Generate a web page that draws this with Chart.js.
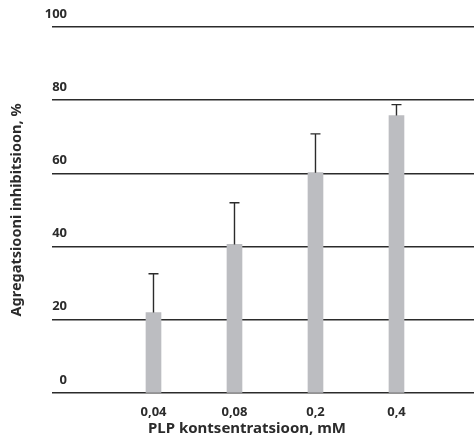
<!DOCTYPE html>
<html>
<head>
<meta charset="utf-8">
<script src="https://cdn.jsdelivr.net/npm/chart.js@4/dist/chart.umd.min.js"></script>
<style>
  html, body { margin: 0; padding: 0; background: #fff; }
  #wrap { width: 474px; height: 439px; }
</style>
</head>
<body>
<div id="wrap"><canvas id="chart"></canvas></div>
<script>
// Andmed
const concentrations = ['0,04', '0,08', '0,2', '0,4'];
const positions = [1, 2, 3, 4];
const inhibition = [22, 40.6, 60.2, 75.8];
const errorUp = [10.6, 11.4, 10.6, 3];
const yTicks = [0, 20, 40, 60, 80, 100];

const FONT = '"Noto Sans", sans-serif';
const INK = '#2b2b2b';

// ainult ülemine veaosa koos kriipsuga
const errorBars = {
  id: 'errorBars',
  afterDatasetsDraw(chart) {
    const ctx = chart.ctx;
    const meta = chart.getDatasetMeta(0);
    const y = chart.scales.y;
    ctx.save();
    ctx.strokeStyle = INK;
    ctx.lineWidth = 1.4;
    meta.data.forEach((bar, i) => {
      const top = y.getPixelForValue(inhibition[i] + errorUp[i]);
      ctx.beginPath();
      ctx.moveTo(bar.x, bar.y);
      ctx.lineTo(bar.x, top);
      ctx.moveTo(bar.x - 5, top);
      ctx.lineTo(bar.x + 5, top);
      ctx.stroke();
    });
    ctx.restore();
  }
};

// y-telje sildid joone kohal, x-telje pealkiri
const axisText = {
  id: 'axisText',
  afterDraw(chart) {
    const ctx = chart.ctx;
    const y = chart.scales.y;
    const area = chart.chartArea;
    ctx.save();
    ctx.fillStyle = INK;
    ctx.font = 'bold 13px ' + FONT;
    ctx.textAlign = 'right';
    ctx.textBaseline = 'alphabetic';
    yTicks.forEach(v => {
      ctx.fillText(String(v), area.left + 15, y.getPixelForValue(v) - 9.5);
    });
    ctx.font = 'bold 15px ' + FONT;
    ctx.textAlign = 'center';
    ctx.fillText('PLP kontsentratsioon, mM', 247, 433);
    ctx.restore();
  }
};

new Chart(document.getElementById('chart'), {
  type: 'bar',
  data: {
    datasets: [{
      data: positions.map((p, i) => ({ x: p, y: inhibition[i] })),
      backgroundColor: '#bcbdc1',
      barThickness: 15
    }]
  },
  options: {
    responsive: true,
    maintainAspectRatio: false,
    animation: false,
    layout: { padding: { top: 27, right: 0, bottom: 0, left: 0 } },
    plugins: {
      legend: { display: false },
      tooltip: { enabled: false }
    },
    scales: {
      x: {
        type: 'linear',
        offset: false,
        min: -0.253,
        max: 4.957,
        afterBuildTicks: scale => { scale.ticks = positions.map(v => ({ value: v })); },
        afterFit: scale => { scale.height = 46; },
        grid: { display: false },
        border: { display: false },
        ticks: {
          padding: 3,
          color: INK,
          font: { family: FONT, size: 13, weight: 'bold' },
          callback: v => concentrations[positions.indexOf(v)] || ''
        }
      },
      y: {
        min: 0,
        max: 100,
        afterBuildTicks: scale => { scale.ticks = yTicks.map(v => ({ value: v })); },
        afterFit: scale => { scale.width = 52; },
        border: { display: false },
        grid: { color: INK, lineWidth: 1.4, drawTicks: false },
        ticks: { display: false },
        title: {
          display: true,
          text: 'Agregatsiooni inhibitsioon, %',
          color: INK,
          font: { family: FONT, size: 14.5, weight: 'bold' },
          padding: { top: 8, bottom: 0 }
        }
      }
    }
  },
  plugins: [errorBars, axisText]
});
</script>
</body>
</html>
